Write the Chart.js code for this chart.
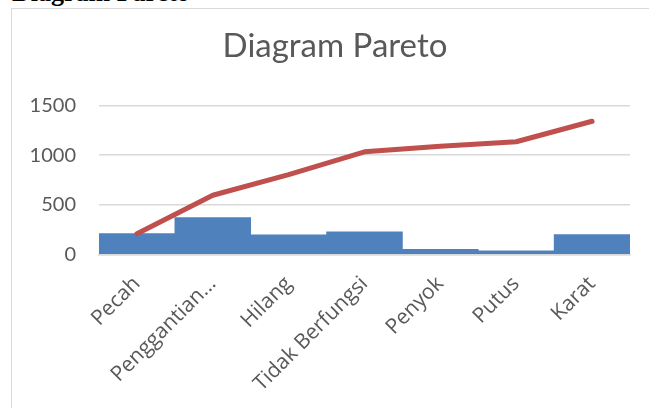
<!DOCTYPE html>
<html>
<head>
<meta charset="utf-8">
<script src="https://cdn.jsdelivr.net/npm/chart.js@4.4.1/dist/chart.umd.min.js"></script>
<style>
  html, body { margin: 0; padding: 0; background: #fff; overflow: hidden; }
  body { width: 649px; height: 408px; position: relative; }
  .caption {
    position: absolute; left: 12px; top: -20px;
    font: bold 26px "Liberation Serif", "Times New Roman", serif;
    line-height: 26px; color: #000; white-space: nowrap;
  }
  .frame {
    position: absolute; left: 11px; top: 8px; width: 700px; height: 500px;
    border-left: 1px solid #d9d9d9; border-top: 1px solid #d9d9d9;
  }
  .box { position: absolute; left: 12px; top: 9px; width: 646px; height: 399px; }
</style>
</head>
<body>
<div class="caption">Diagram Pareto</div>
<div class="frame"></div>
<div class="box"><canvas id="pareto"></canvas></div>
<script>
// --- Datos ---
const categories = ['Pecah', 'Penggantian...', 'Hilang', 'Tidak Berfungsi', 'Penyok', 'Putus', 'Karat'];
const frekuensi = [210, 373, 197, 229, 52, 38, 200];
const kumulatif = [210, 597, 805, 1034, 1090, 1136, 1342];
const yTicks = [0, 500, 1000, 1500];

const gray = '#595959';
const font = 'Lato, "Open Sans", sans-serif';
const labelFont = '"Open Sans", Lato, sans-serif';

const ctx = document.getElementById('pareto').getContext('2d');
new Chart(ctx, {
    type: 'bar',
    data: {
        labels: categories,
        datasets: [
            {
                type: 'line',
                label: 'Kumulatif',
                data: kumulatif,
                borderColor: '#c0504d',
                borderWidth: 5,
                borderCapStyle: 'round',
                borderJoinStyle: 'round',
                pointRadius: 0,
                tension: 0,
                order: 0
            },
            {
                label: 'Frekuensi',
                data: frekuensi,
                backgroundColor: '#4f81bd',
                borderWidth: 0,
                barPercentage: 1,
                categoryPercentage: 1,
                order: 1
            }
        ]
    },
    options: {
        responsive: true,
        maintainAspectRatio: false,
        animation: false,
        plugins: {
            legend: { display: false },
            tooltip: { enabled: false },
            title: {
                display: true,
                text: 'Diagram Pareto',
                color: gray,
                font: { family: font, size: 33, weight: 'normal' },
                padding: { top: 18, bottom: 39 }
            }
        },
        scales: {
            x: {
                grid: { display: false },
                border: { display: true, color: '#d9d9d9', width: 1.5 },
                ticks: {
                    color: gray,
                    font: { family: labelFont, size: 21 },
                    minRotation: 45,
                    maxRotation: 45,
                    autoSkip: false,
                    padding: 9
                },
                afterFit: (scale) => { scale.height = 153.5; }
            },
            y: {
                min: 0,
                max: 1500,
                afterBuildTicks: (scale) => { scale.ticks = yTicks.map(v => ({ value: v })); },
                grid: { color: '#d9d9d9', lineWidth: 1.5, drawTicks: false },
                border: { display: false },
                ticks: {
                    color: gray,
                    font: { family: font, size: 20 },
                    padding: 23,
                    callback: (value) => String(value)
                },
                afterFit: (scale) => { scale.width = 87; }
            },
            // espacio vacío a la derecha del área de trazado
            kanan: {
                position: 'right',
                display: true,
                grid: { display: false, drawTicks: false },
                border: { display: false },
                ticks: { display: false },
                afterFit: (scale) => { scale.width = 28; }
            }
        }
    }
});
</script>
</body>
</html>
